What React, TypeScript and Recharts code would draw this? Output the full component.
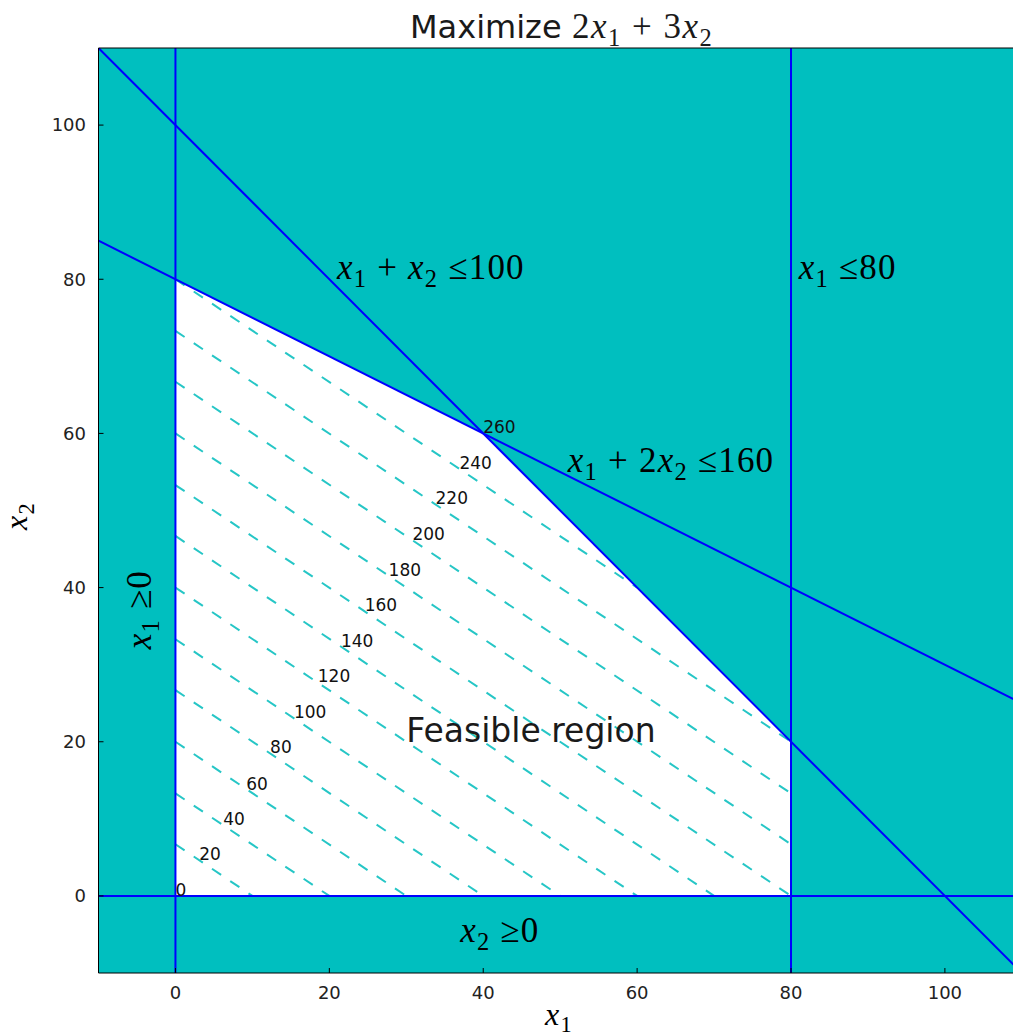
import {
  Area,
  CartesianGrid,
  ComposedChart,
  ReferenceLine,
  Scatter,
  XAxis,
  YAxis,
} from "recharts";

const xTicks = [0, 20, 40, 60, 80, 100];
const yTicks = [0, 20, 40, 60, 80, 100];

// upper edge of the feasible region (x1, x2)
const feasibleX1 = [0, 40, 80];
const feasibleX2 = [80, 60, 20];

// constraint lines
const slantedConstraints = [
  { from: [-10, 110], to: [110, -10] }, // x1 + x2 = 100
  { from: [-10, 85], to: [110, 25] }, // x1 + 2x2 = 160
];
const verticalConstraints = [0, 80];
const horizontalConstraints = [0];

// dashed objective lines 2x1 + 3x2 = c, as drawn inside the region
const contourStartX2 = [6.7, 13.3, 20, 26.7, 33.3, 40, 46.7, 53.3, 60, 66.7, 73.3, 80];
const contourEndX1 = [10, 20, 30, 40, 50, 60, 70, 80, 80, 80, 80, 60];
const contourEndX2 = [0, 0, 0, 0, 0, 0, 0, 0, 6.7, 13.3, 20, 40];

// objective value labels
const labelValues = [0, 20, 40, 60, 80, 100, 120, 140, 160, 180, 200, 220, 240, 260];
const labelX1 = [0, 3.1, 6.2, 9.2, 12.3, 15.4, 18.5, 21.5, 24.6, 27.7, 30.8, 33.8, 36.9, 40];
const labelX2 = [0, 4.6, 9.2, 13.8, 18.5, 23.1, 27.7, 32.3, 36.9, 41.5, 46.2, 50.8, 55.4, 60];

const annotations = [
  { x: 21, y: 80, tex: "x_1 + x_2 \u2264100", rotate: 0 },
  { x: 81, y: 80, tex: "x_1 \u226480", rotate: 0 },
  { x: 51, y: 55, tex: "x_1 + 2x_2 \u2264160", rotate: 0 },
  { x: 37, y: -6, tex: "x_2 \u22650", rotate: 0 },
  { x: -3.2, y: 32, tex: "x_1 \u22650", rotate: -90 },
];

const regionText = [{ x: 30, y: 20, text: "Feasible region" }];

const TEAL = "#00BFBF";
const BLUE = "#0000FF";
const SANS = "'DejaVu Sans', sans-serif";
const SERIF = "'Liberation Serif', serif";

const feasibleData = feasibleX1.map((x, i) => ({ x, y: feasibleX2[i] }));
const labelData = labelValues.map((v, i) => ({ x: labelX1[i], y: labelX2[i], v }));

function mathSpans(tex: string, size: number) {
  const nodes: any[] = [];
  let down = false;
  const shift = size * 0.22;
  for (let i = 0; i < tex.length; i++) {
    let ch = tex[i];
    let sub = false;
    if (ch === "_") {
      sub = true;
      i++;
      ch = tex[i];
    }
    let dy: number | undefined;
    if (sub && !down) {
      dy = shift;
      down = true;
    } else if (!sub && down) {
      dy = -shift;
      down = false;
    }
    nodes.push(
      <tspan
        key={i}
        dy={dy}
        fontFamily={SERIF}
        fontStyle={/[a-z]/.test(ch) ? "italic" : "normal"}
        fontSize={sub ? size * 0.7 : size}
      >
        {ch}
      </tspan>
    );
  }
  return nodes;
}

function MathText({
  x,
  y,
  tex,
  size,
  rotate = 0,
}: {
  x: number;
  y: number;
  tex: string;
  size: number;
  rotate?: number;
}) {
  return (
    <text
      x={x}
      y={y}
      fontSize={size}
      fill="#000"
      letterSpacing={1.2}
      style={{ whiteSpace: "pre" }}
      transform={rotate ? `rotate(${rotate} ${x} ${y})` : undefined}
    >
      {mathSpans(tex, size)}
    </text>
  );
}

const renderValueLabel = (props: any) => (
  <text x={props.cx} y={props.cy} fontFamily={SANS} fontSize={17} fill="#111">
    {props.payload.v}
  </text>
);

const renderAnnotation = (props: any) => (
  <MathText
    x={props.cx}
    y={props.cy}
    tex={props.payload.tex}
    size={35}
    rotate={props.payload.rotate}
  />
);

const renderRegionText = (props: any) => (
  <text x={props.cx} y={props.cy} fontFamily={SANS} fontSize={33} fill="#1a1a1a">
    {props.payload.text}
  </text>
);

const tickStyle = { fill: "#222", fontSize: 18, fontFamily: SANS };

export default function App() {
  return (
    <div
      style={{
        position: "absolute",
        left: 0,
        top: 0,
        width: 1013,
        height: 1036,
        overflow: "hidden",
        background: "#fff",
      }}
    >
      <ComposedChart
        width={1013}
        height={1036}
        margin={{ top: 38, right: 0, bottom: 33, left: 38.5 }}
      >
        <CartesianGrid fill={TEAL} fillOpacity={1} horizontal={false} vertical={false} />
        <XAxis
          type="number"
          dataKey="x"
          domain={[-10, 108.85]}
          ticks={xTicks}
          interval={0}
          allowDataOverflow
          height={30}
          tickSize={-5}
          tickMargin={18}
          tick={tickStyle}
          axisLine={{ stroke: "#000" }}
          tickLine={{ stroke: "#000" }}
        />
        <XAxis
          xAxisId="top"
          orientation="top"
          type="number"
          domain={[-10, 108.85]}
          ticks={xTicks}
          interval={0}
          allowDataOverflow
          height={10}
          tickSize={-5}
          tickFormatter={() => ""}
          axisLine={{ stroke: "#000" }}
          tickLine={{ stroke: "#000" }}
        />
        <YAxis
          type="number"
          domain={[-10, 110]}
          ticks={yTicks}
          interval={0}
          allowDataOverflow
          width={60}
          tickSize={-5}
          tickMargin={17.5}
          tick={tickStyle}
          axisLine={{ stroke: "#000" }}
          tickLine={{ stroke: "#000" }}
        />
        <Area
          data={feasibleData}
          dataKey="y"
          type="linear"
          baseValue={0}
          fill="#fff"
          fillOpacity={1}
          stroke="none"
          dot={false}
          activeDot={false}
          isAnimationActive={false}
        />
        {contourStartX2.map((y0, i) => (
          <ReferenceLine
            key={`c${i}`}
            segment={[
              { x: 0, y: y0 },
              { x: contourEndX1[i], y: contourEndX2[i] },
            ]}
            stroke="#26C6C6"
            strokeWidth={2}
            strokeDasharray="11 11"
          />
        ))}
        {slantedConstraints.map((c, i) => (
          <ReferenceLine
            key={`s${i}`}
            segment={[
              { x: c.from[0], y: c.from[1] },
              { x: c.to[0], y: c.to[1] },
            ]}
            ifOverflow="hidden"
            stroke={BLUE}
            strokeWidth={2}
          />
        ))}
        {verticalConstraints.map((v) => (
          <ReferenceLine key={`v${v}`} x={v} stroke={BLUE} strokeWidth={2} />
        ))}
        {horizontalConstraints.map((v) => (
          <ReferenceLine key={`h${v}`} y={v} stroke={BLUE} strokeWidth={2} />
        ))}
        <Scatter
          data={labelData}
          dataKey="y"
          shape={renderValueLabel}
          isAnimationActive={false}
        />
        <Scatter
          data={annotations}
          dataKey="y"
          shape={renderAnnotation}
          isAnimationActive={false}
        />
        <Scatter
          data={regionText}
          dataKey="y"
          shape={renderRegionText}
          isAnimationActive={false}
        />
      </ComposedChart>
      <svg
        width={1013}
        height={1036}
        style={{ position: "absolute", left: 0, top: 0, pointerEvents: "none" }}
      >
        <text x={410} y={38} fontSize={32} fill="#1a1a1a" style={{ whiteSpace: "pre" }}>
          <tspan fontFamily={SANS}>Maximize </tspan>
        </text>
        <text x={572} y={38} fontSize={35} fill="#1a1a1a" letterSpacing={1.5} style={{ whiteSpace: "pre" }}>
          {mathSpans("2x_1 + 3x_2", 35)}
        </text>
        <MathText x={545} y={1025} tex="x_1" size={32} />
        <MathText x={27} y={530} tex="x_2" size={32} rotate={-90} />
      </svg>
    </div>
  );
}
